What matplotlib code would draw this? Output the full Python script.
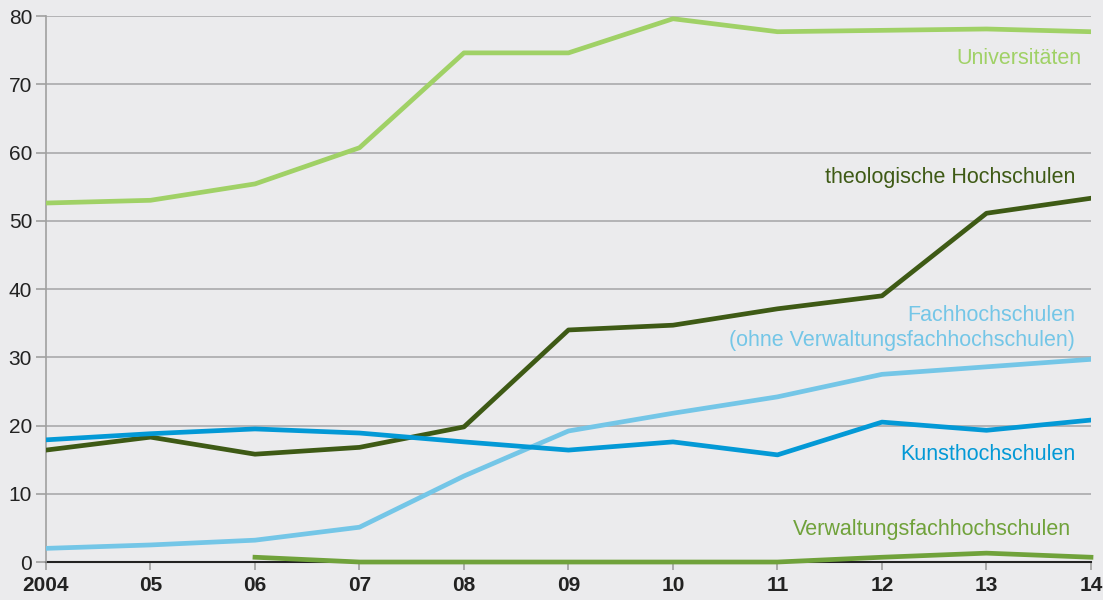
import matplotlib.pyplot as plt

plt.rcParams['font.family'] = ['Liberation Sans', 'DejaVu Sans']

years = [2004, 2005, 2006, 2007, 2008, 2009, 2010, 2011, 2012, 2013, 2014]
year_labels = ['2004', '05', '06', '07', '08', '09', '10', '11', '12', '13', '14']

uni = [52.6, 53.0, 55.4, 60.7, 74.6, 74.6, 79.6, 77.7, 77.9, 78.1, 77.7]
theo = [16.4, 18.3, 15.8, 16.8, 19.8, 34.0, 34.7, 37.1, 39.0, 51.1, 53.3]
fh = [2.0, 2.5, 3.2, 5.1, 12.6, 19.2, 21.8, 24.2, 27.5, 28.6, 29.7]
kunst = [17.9, 18.8, 19.5, 18.9, 17.6, 16.4, 17.6, 15.7, 20.5, 19.3, 20.8]
verw_years = [2006, 2007, 2008, 2009, 2010, 2011, 2012, 2013, 2014]
verw = [0.7, 0.0, 0.0, 0.0, 0.0, 0.0, 0.7, 1.3, 0.7]

bg = '#ebebed'
c_uni = '#a0d166'
c_theo = '#3e5a15'
c_fh = '#74c6e7'
c_kunst = '#0399d6'
c_verw = '#70a23b'

fig = plt.figure(figsize=(11.03, 6.0), dpi=100, facecolor=bg)
ax = fig.add_axes([0.0417, 0.0633, 0.9474, 0.91])
ax.set_facecolor(bg)

lw = 3.4
ax.plot(years, uni, color=c_uni, lw=lw, zorder=3)
ax.plot(years, theo, color=c_theo, lw=lw, zorder=3)
ax.plot(years, fh, color=c_fh, lw=lw, zorder=3)
ax.plot(years, kunst, color=c_kunst, lw=lw, zorder=3)
ax.plot(verw_years, verw, color=c_verw, lw=lw, zorder=4, clip_on=False)

ax.set_xlim(2004, 2014)
ax.set_ylim(0, 80)
ax.set_yticks(range(0, 81, 10))
ax.set_xticks(years)
ax.set_xticklabels(year_labels, fontweight='bold')
ax.grid(axis='y', color='#a9a9ab', lw=1.2, zorder=1)

for s in ['top', 'right']:
    ax.spines[s].set_visible(False)
ax.spines['left'].set_color('#a0a0a0')
ax.spines['left'].set_linewidth(1.2)
ax.spines['bottom'].set_color('#222222')
ax.spines['bottom'].set_linewidth(1.5)
ax.spines['bottom'].set_zorder(2)

ax.tick_params(axis='y', length=7, width=1.2, color='#a0a0a0', labelsize=15,
               labelcolor='#222222', pad=3)
ax.tick_params(axis='x', length=6, width=1.2, color='#a0a0a0', labelsize=15,
               labelcolor='#222222', pad=4)

fs = 15.5
ax.text(2013.91, 73.8, 'Universitäten', color=c_uni, fontsize=fs, ha='right', va='center')
ax.text(2013.85, 56.3, 'theologische Hochschulen', color=c_theo, fontsize=fs, ha='right', va='center')
ax.text(2013.85, 34.3, 'Fachhochschulen\n(ohne Verwaltungsfachhochschulen)', color=c_fh,
        fontsize=fs, ha='right', va='center', multialignment='right', linespacing=1.3)
ax.text(2013.85, 15.8, 'Kunsthochschulen', color=c_kunst, fontsize=fs, ha='right', va='center')
ax.text(2013.81, 4.7, 'Verwaltungsfachhochschulen', color=c_verw, fontsize=fs, ha='right', va='center')

fig.savefig('out.png', dpi=100, facecolor=bg)
